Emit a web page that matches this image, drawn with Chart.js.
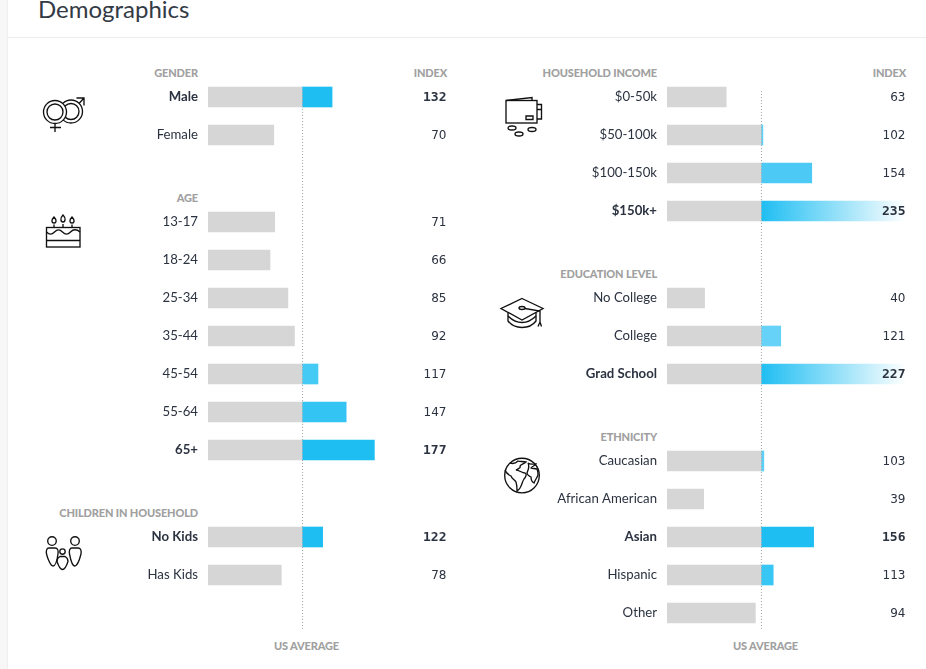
<!DOCTYPE html>
<html>
<head>
<meta charset="utf-8">
<title>Demographics</title>
<script src="https://cdn.jsdelivr.net/npm/chart.js@4"></script>
<style>
    html, body { margin: 0; padding: 0; background: #fff; overflow: hidden; }
    body { width: 926px; height: 669px; position: relative; font-family: Lato, sans-serif; }
    canvas { position: absolute; }
    svg { position: absolute; left: 0; top: 0; }
    svg * { fill: none; stroke: #111; stroke-width: 1.35; }
    #gutter { position: absolute; left: 0; top: 0; width: 7px; height: 669px; background: #f7f7f7; border-right: 1px solid #efefef; }
    #rule { position: absolute; left: 8px; right: 0; top: 37px; height: 1px; background: #ececec; }
    h1 { position: absolute; left: 38px; top: -6px; margin: 0; font-size: 24px; font-weight: 400; line-height: 30px; color: #333a45; white-space: nowrap; }
    .head { position: absolute; font-size: 11px; line-height: 14px; font-weight: 900; color: #a0a0a0; white-space: nowrap; letter-spacing: -0.15px; }
</style>
</head>
<body>
<div id="gutter"></div>
<div id="rule"></div>
<h1>Demographics</h1>

<svg width="926" height="669">
    <!-- genero -->
    <circle cx="71" cy="111.5" r="11.5"/><circle cx="71" cy="111.5" r="8"/>
    <circle cx="55" cy="112" r="11.5" style="fill:#fff"/><circle cx="55" cy="112" r="8"/>
    <path d="M55 123.5V132M50 127.5H61M79 103.5L84 98M76.5 98H84V105.5"/>
    <!-- pastel -->
    <rect x="46.5" y="227.5" width="33.5" height="19.5"/>
    <path d="M46.5 240.5H80M46.5 232c3 3 5 3 8 0s5-3 8 0 5 3 8 0 6-3 9.500 0"/>
    <path d="M54 224.500v2.500M63 224v3M72 224.500v2.500"/>
    <path d="M54 217c-3 3-2.500 6 0 6s3-3 0-6zM63 215c-3 3-2.500 7 0 7s3-4 0-7zM72 217c-3 3-2.500 6 0 6s3-3 0-6z"/>
    <!-- familia -->
    <circle cx="52" cy="541" r="4.300"/><circle cx="75" cy="541" r="4.300"/><circle cx="62.500" cy="551.500" r="2.700"/>
    <path d="M49 548h6c3 0 3.500 3 3 6-.7 5-2.500 12-5 12s-5.500-8-6.500-12c-.5-3 0-6 2.500-6z"/>
    <path d="M72 548h6c3 0 3.500 3 3 6-1 4-3.500 12-6.500 12-2 0-4-7-5-12-.5-3 0-6 2.500-6z"/>
    <path d="M60 556.500h5c2 1 3 3 3 5-1 3-3.500 8-5.500 8s-4.500-5-5.500-8c0-2 1-4 3-5z"/>
    <!-- cartera -->
    <rect x="506" y="100.500" width="31" height="22.500"/>
    <path d="M506 100.500L532 97.500V100.500M537 104.500H541.500V119H537M537 109.500H541.500M526 116h7v3.500h-7z"/>
    <ellipse cx="512" cy="128" rx="4" ry="2"/><ellipse cx="519" cy="134" rx="4" ry="2"/><ellipse cx="532" cy="129.500" rx="4" ry="2"/>
    <!-- birrete -->
    <path d="M522 298.500L543 308.500L522 320L501 308.500Z"/>
    <ellipse cx="522" cy="308" rx="3" ry="1.500"/>
    <path d="M525 308.500L540 311V322M538 326.500L540 322L541.500 326.500"/>
    <path d="M508 312.500V321C511 325 516 327.500 522 327.500S533 325 536 321V312.500"/>
    <path d="M508 316C512 320 517 322.500 522 322.500S532 320 536 316"/>
    <!-- globo -->
    <circle cx="522" cy="475.500" r="17.300"/>
    <path d="M510 463c3 1 6 0 8-2 2 1 5 0 8 1-2 2-5 2-6 4 1 2-2 3-4 4 3 0 6 3 9 3 2 1 1 4-1 6-2 3-2 6-4 9 -1 2-2 2-3 3 0-3 0-6-1-9-1-2-4-3-5-6-2-1-5-3-6-6"/>
    <path d="M528 463c2 2 5 1 8 1-1 2-4 2-5 4 2 1 3 0 6 1 1 2 1 5 1 6-1 3-3 5-4 8-2-1-3-3-3-6-2-1-4-2-4-4 1-3 3-6 1-10z"/>
</svg>

<div class="head" style="right:728px;top:66px">GENDER</div>
<div class="head" style="right:479px;top:66px">INDEX</div>
<div class="head" style="right:728px;top:191px">AGE</div>
<div class="head" style="right:728px;top:506px">CHILDREN IN HOUSEHOLD</div>
<div class="head" style="left:274px;top:639px">US AVERAGE</div>
<div class="head" style="right:269px;top:66px">HOUSEHOLD INCOME</div>
<div class="head" style="right:20px;top:66px">INDEX</div>
<div class="head" style="right:269px;top:267px">EDUCATION LEVEL</div>
<div class="head" style="right:269px;top:430px">ETHNICITY</div>
<div class="head" style="left:733px;top:639px">US AVERAGE</div>

<script>
// Datos de cada grupo
const genderLabels = ["Male", "Female"];
const genderValues = [132, 70];
const ageLabels = ["13-17", "18-24", "25-34", "35-44", "45-54", "55-64", "65+"];
const ageValues = [71, 66, 85, 92, 117, 147, 177];
const kidsLabels = ["No Kids", "Has Kids"];
const kidsValues = [122, 78];
const incomeLabels = ["$0-50k", "$50-100k", "$100-150k", "$150k+"];
const incomeValues = [63, 102, 154, 235];
const educationLabels = ["No College", "College", "Grad School"];
const educationValues = [40, 121, 227];
const ethnicityLabels = ["Caucasian", "African American", "Asian", "Hispanic", "Other"];
const ethnicityValues = [103, 39, 156, 113, 94];
const highlighted = ["Male", "65+", "No Kids", "$150k+", "Grad School", "Asian"];

const US_AVERAGE = 100;
const AXIS_MAX = 254.26;   // 239px de ancho, 94px por cada 100
const CAP = 200;           // arriba de esto la barra llega hasta el borde y se desvanece
const ROW = 38;
const LINE_TOP = 91;
const LINE_BOTTOM = 630;

const GREY = '#d6d6d6';
const BLUE = '#1fbef2';
const shades = {
    "45-54": '#45c9f5', "55-64": '#33c4f3', "$50-100k": '#5ccff6', "$100-150k": '#4ccaf5',
    "College": '#66d2f7', "Caucasian": '#5ccff6', "Hispanic": '#38c6f5'
};

const LABEL_FONT = 'Lato, sans-serif';
const TEXT = '#2b3240';

// Valor a la derecha y linea punteada del promedio
const overlayPlugin = {
    id: 'overlay',
    afterDatasetsDraw(chart, args, opts) {
        const { ctx, chartArea, scales } = chart;
        const x = Math.round(scales.x.getPixelForValue(US_AVERAGE)) + 0.5;
        ctx.save();
        ctx.strokeStyle = '#a8a8a8';
        ctx.lineWidth = 1;
        ctx.setLineDash([1, 2]);
        ctx.beginPath();
        ctx.moveTo(x, LINE_TOP - opts.top);
        ctx.lineTo(x, LINE_BOTTOM - opts.top);
        ctx.stroke();
        ctx.restore();

        ctx.save();
        ctx.textAlign = 'right';
        ctx.textBaseline = 'middle';
        ctx.fillStyle = TEXT;
        opts.labels.forEach((label, i) => {
            ctx.font = highlighted.includes(label) ? 'bold 13px "DejaVu Sans Mono"' : '12px "DejaVu Sans"';
            ctx.fillText(opts.values[i], chartArea.right - 0.5, scales.y.getPixelForValue(i) + 1);
        });
        ctx.restore();
    }
};

function blueFill(context) {
    const label = context.chart.data.labels[context.dataIndex];
    const value = context.chart.options.plugins.overlay.values[context.dataIndex];
    if (value > CAP && context.chart.chartArea) {
        const { x } = context.chart.scales;
        const gradient = context.chart.ctx.createLinearGradient(x.getPixelForValue(US_AVERAGE), 0, x.right, 0);
        gradient.addColorStop(0, BLUE);
        gradient.addColorStop(1, 'rgba(31, 190, 242, 0)');
        return gradient;
    }
    return shades[label] || BLUE;
}

function drawGroup(labels, values, left, top, gap) {
    const canvas = document.createElement('canvas');
    canvas.width = 410;
    canvas.height = ROW * labels.length + gap;
    canvas.style.left = left + 'px';
    canvas.style.top = top + 'px';
    document.body.appendChild(canvas);

    new Chart(canvas.getContext('2d'), {
        type: 'bar',
        data: {
            labels: labels,
            datasets: [{
                data: values.map(v => Math.min(v, US_AVERAGE)),
                backgroundColor: GREY,
                barThickness: 20
            }, {
                data: values.map(v => v > CAP ? AXIS_MAX - US_AVERAGE : (v > US_AVERAGE ? v - US_AVERAGE : null)),
                backgroundColor: blueFill,
                barThickness: 20
            }]
        },
        options: {
            indexAxis: 'y',
            responsive: false,
            animation: false,
            layout: { padding: { right: 3, bottom: gap } },
            plugins: {
                legend: { display: false },
                tooltip: { enabled: false },
                overlay: { labels: labels, values: values, top: top }
            },
            scales: {
                x: { stacked: true, display: false, min: 0, max: AXIS_MAX },
                y: {
                    stacked: true,
                    // ancho fijo y sin el margen que el eje agrega arriba y abajo
                    afterFit: scale => {
                        scale.width = 168;
                        scale.paddingTop = 0;
                        scale.paddingBottom = 0;
                    },
                    border: { display: false },
                    grid: { display: false, drawTicks: false },
                    ticks: {
                        padding: 10,
                        color: TEXT,
                        autoSkip: false,
                        font: ctx => ({
                            family: LABEL_FONT,
                            size: 13.2,
                            weight: highlighted.includes(labels[ctx.index]) ? 'bold' : 'normal'
                        })
                    }
                }
            }
        },
        plugins: [overlayPlugin]
    });
}

drawGroup(genderLabels, genderValues, 40, 78, 49);
drawGroup(ageLabels, ageValues, 40, 203, 49);
drawGroup(kidsLabels, kidsValues, 40, 518, 36);
drawGroup(incomeLabels, incomeValues, 499, 78, 49);
drawGroup(educationLabels, educationValues, 499, 279, 49);
drawGroup(ethnicityLabels, ethnicityValues, 499, 442, 0);
</script>
</body>
</html>
